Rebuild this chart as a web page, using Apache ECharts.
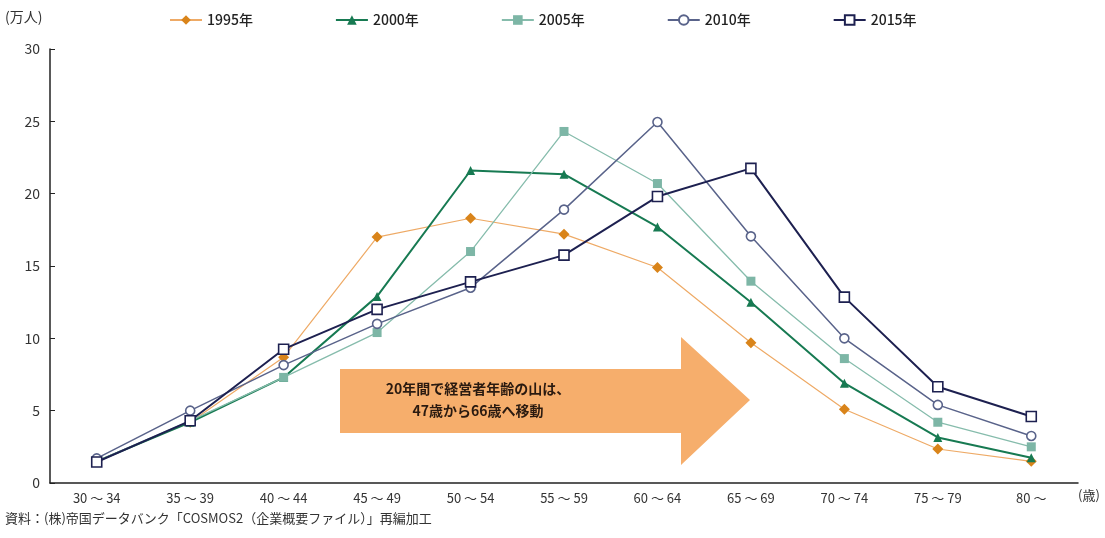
<!DOCTYPE html>
<html><head><meta charset="utf-8">
<script src="https://cdn.jsdelivr.net/npm/echarts@6/dist/echarts.min.js"></script>
<style>html,body{margin:0;padding:0;background:#fff}#c{width:1105px;height:538px}</style>
</head><body><div id="c"></div>
<script>
const categories = ['30 ～ 34','35 ～ 39','40 ～ 44','45 ～ 49','50 ～ 54','55 ～ 59','60 ～ 64','65 ～ 69','70 ～ 74','75 ～ 79','80 ～'];
const yTicks = [0,5,10,15,20,25,30];
const s1995 = [1.5,4.2,8.7,17.0,18.3,17.2,14.9,9.7,5.1,2.35,1.5];
const s2000 = [1.5,4.2,7.3,12.9,21.6,21.35,17.7,12.5,6.9,3.15,1.75];
const s2005 = [1.5,4.3,7.3,10.4,16.0,24.3,20.7,13.95,8.6,4.2,2.5];
const s2010 = [1.7,5.0,8.15,11.0,13.5,18.9,24.95,17.05,10.0,5.4,3.25];
const s2015 = [1.45,4.3,9.25,12.0,13.9,15.75,19.8,21.75,12.85,6.65,4.6];
const seriesNames = ['1995年','2000年','2005年','2010年','2015年'];
const arrowText = '20年間で経営者年齢の山は、\n47歳から66歳へ移動';
const sourceText = '資料：(株)帝国データバンク「COSMOS2（企業概要ファイル）」再編加工';

const FONT = '"Noto Sans CJK JP", "Noto Sans", sans-serif';
const chart = echarts.init(document.getElementById('c'));

function mk(name, data, color, lineColor, width, symbol, size, fill, z) {
  return {
    name, type: 'line', data, symbol, symbolSize: size, z,
    lineStyle: { color: lineColor, width },
    itemStyle: { color: fill, borderColor: color, borderWidth: fill === '#fff' ? 1.6 : 0 },
    color: color,
    emphasis: { disabled: true },
    animation: false
  };
}

chart.setOption({
  animation: false,
  textStyle: { fontFamily: FONT },
  grid: { left: 50, right: 27, top: 49, bottom: 55 },
  legend: {
    top: 8, left: 164, itemGap: 82, itemWidth: 32, itemHeight: 12,
    textStyle: { fontFamily: FONT, fontSize: 14, color: '#222', fontWeight: 500 },
    data: seriesNames
  },
  xAxis: {
    type: 'category', data: categories, boundaryGap: true,
    axisLine: { lineStyle: { color: '#222', width: 1.5 } },
    axisTick: { inside: true, length: 6, lineStyle: { color: '#222' } },
    axisLabel: { color: '#333', fontSize: 13, margin: 9, fontFamily: FONT }
  },
  yAxis: {
    type: 'value', min: yTicks[0], max: yTicks[yTicks.length-1], interval: 5,
    axisLine: { show: true, lineStyle: { color: '#222', width: 1.5 } },
    axisTick: { show: true, inside: true, length: 5, lineStyle: { color: '#222' } },
    splitLine: { show: false },
    axisLabel: { color: '#333', fontSize: 14, margin: 10, fontFamily: FONT }
  },
  graphic: [
    { type: 'text', left: 5, top: 10, style: { text: '(万人)', font: '14px ' + FONT, fill: '#333' } },
    { type: 'text', left: 1078, top: 489, style: { text: '(歳)', font: '13px ' + FONT, fill: '#333' } },
    { type: 'text', left: 5, top: 512, style: { text: sourceText, font: '13px ' + FONT, fill: '#333' } },
    { type: 'polygon', z: 1,
      shape: { points: [[340,369],[681,369],[681,337],[750,400],[681,465],[681,433],[340,433]] },
      style: { fill: '#f6ae6c' } },
    { type: 'text', z: 2, position: [478, 400],
      style: { text: arrowText, font: 'bold 14px ' + FONT, fill: '#2a1a10', align: 'center', verticalAlign: 'middle', lineHeight: 22 } }
  ],
  series: [
    mk('1995年', s1995, '#d9841a', '#eeaa66', 1.2, 'diamond', 11, '#d9841a', 3),
    mk('2000年', s2000, '#177a52', '#177a52', 2, 'triangle', 9, '#177a52', 4),
    mk('2005年', s2005, '#7db6a6', '#86bcac', 1.3, 'rect', 9, '#7db6a6', 5),
    mk('2010年', s2010, '#59638a', '#59638a', 1.5, 'circle', 9, '#fff', 6),
    mk('2015年', s2015, '#1d2050', '#1d2050', 2, 'rect', 10, '#fff', 7)
  ]
});
</script></body></html>
